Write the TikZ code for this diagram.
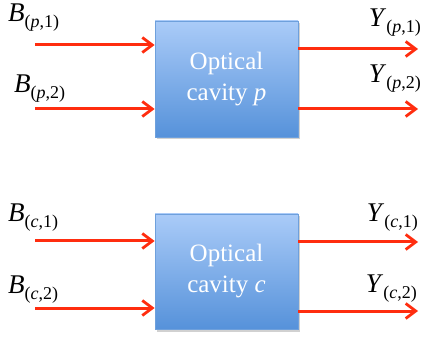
\documentclass[tikz,border=0pt]{standalone}
\usepackage{fontspec}
\setmainfont{Liberation Serif}
\usetikzlibrary{arrows.meta}
\definecolor{arrred}{RGB}{255,45,15}
\definecolor{boxtop}{RGB}{170,203,248}
\definecolor{boxbot}{RGB}{86,146,218}
\definecolor{boxedge}{RGB}{110,160,220}
\newcommand{\lbl}[2]{\textit{#1}\raisebox{-6pt}{\fontsize{18}{18}\selectfont (#2)}}
\begin{document}
\begin{tikzpicture}[x=1pt,y=-1pt,
  cavity/.style={draw=boxedge,line width=0.8pt,top color=boxtop,bottom color=boxbot,
    minimum width=143pt,minimum height=116pt,inner sep=0pt,text=white,align=center,
    font=\fontsize{25}{31}\selectfont},
  sig/.style={draw=arrred,line width=3pt,-{Straight Barb[length=10pt,width=15pt,line width=2.8pt]}},
  lab/.style={anchor=base west,inner sep=0pt,font=\fontsize{27}{27}\selectfont},
  labr/.style={lab,anchor=base east}]
\useasboundingbox (0,0) rectangle (423,339);
% shadows
\fill[black!18] (156.5,23.5) rectangle (300,139);
\fill[black!18] (156.5,216.5) rectangle (300,331.5);
\node[cavity] (pbox) at (226.5,79) {Optical\\cavity \textit{p}};
\node[cavity,minimum height=115pt] (cbox) at (226.5,271.5) {Optical\\cavity \textit{c}};
% free ends
\coordinate (pin1) at (35,45);
\coordinate (pin2) at (35,109);
\coordinate (pout1) at (418,49);
\coordinate (pout2) at (418,109);
\coordinate (cin1) at (35,241);
\coordinate (cin2) at (35,308);
\coordinate (cout1) at (418,242);
\coordinate (cout2) at (418,311);
\draw[sig] (pin1) -- (pin1 -| pbox.west);
\draw[sig] (pin2) -- (pin2 -| pbox.west);
\draw[sig] (pout1 -| pbox.east) -- (pout1);
\draw[sig] (pout2 -| pbox.east) -- (pout2);
\draw[sig] (cin1) -- (cin1 -| cbox.west);
\draw[sig] (cin2) -- (cin2 -| cbox.west);
\draw[sig] (cout1 -| cbox.east) -- (cout1);
\draw[sig] (cout2 -| cbox.east) -- (cout2);
% labels
\node[lab] (lbp1) at (8,22) {\lbl{B}{\textit{p},1}};
\node[lab] (lbp2) at (14,93) {\lbl{B}{\textit{p},2}};
\node[labr] (lyp1) at (421,27) {\lbl{Y}{\textit{p},1}};
\node[labr] (lyp2) at (421,83) {\lbl{Y}{\textit{p},2}};
\node[lab] (lbc1) at (8,222) {\lbl{B}{\textit{c},1}};
\node[lab] (lbc2) at (8,293) {\lbl{B}{\textit{c},2}};
\node[labr] (lyc1) at (418,222) {\lbl{Y}{\textit{c},1}};
\node[labr] (lyc2) at (417,292) {\lbl{Y}{\textit{c},2}};
\end{tikzpicture}
\end{document}
